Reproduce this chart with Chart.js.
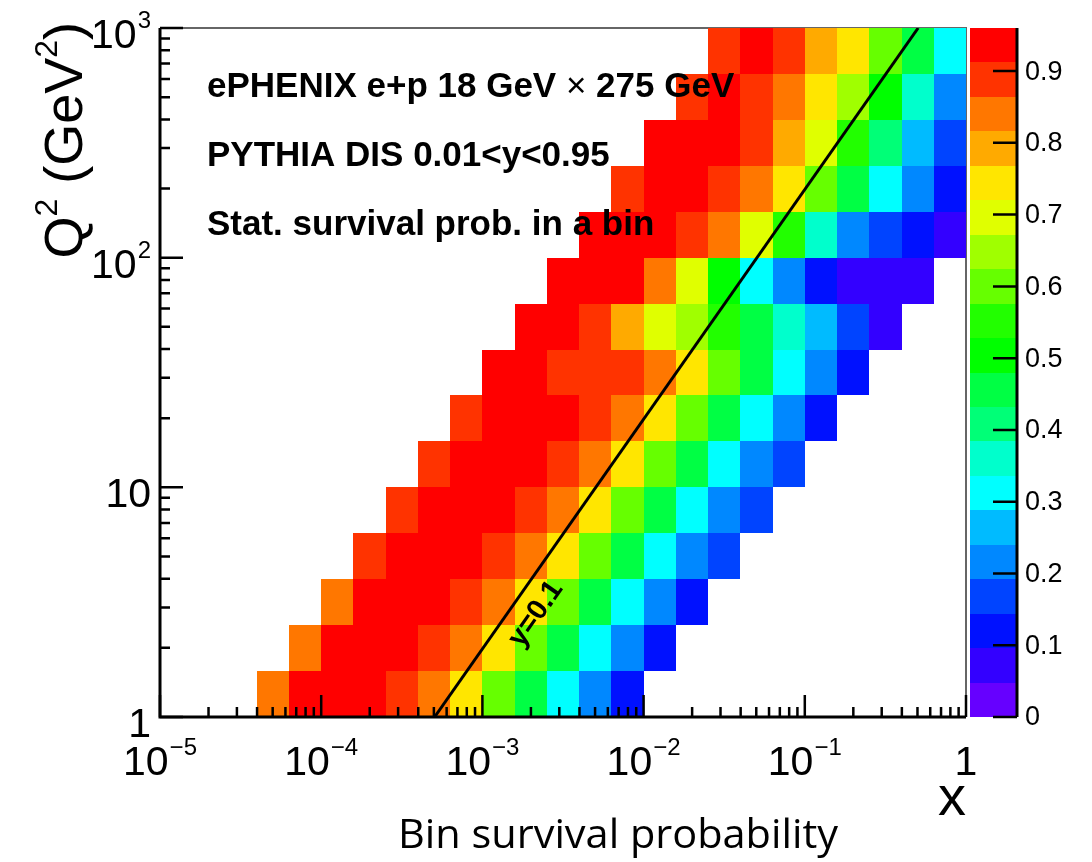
<!DOCTYPE html>
<html lang="en">
<head>
  <meta charset="UTF-8" />
  <title>ePHENIX - Bin survival probability</title>
  <script src="https://cdn.jsdelivr.net/npm/chart.js"></script>
  <style>
    body { margin: 0; background: #fff; }
    #wrap { width: 1092px; height: 862px; position: relative; }
  </style>
</head>
<body>
  <div id="wrap"><canvas id="survChart"></canvas></div>

  <script>
    // bin edges (log10), 5 bins per decade
    const xEdgesLog = [-5, -4.8, -4.6, -4.4, -4.2, -4, -3.8, -3.6, -3.4, -3.2, -3, -2.8, -2.6,
                       -2.4, -2.2, -2, -1.8, -1.6, -1.4, -1.2, -1, -0.8, -0.6, -0.4, -0.2, 0];
    const yEdgesLog = [0, 0.2, 0.4, 0.6, 0.8, 1, 1.2, 1.4, 1.6, 1.8, 2, 2.2, 2.4, 2.6, 2.8, 3];

    // first filled x bin of each Q2 row (bottom to top)
    const rowFirstBin = [3, 4, 5, 6, 7, 8, 9, 10, 11, 12, 13, 14, 15, 16, 17];

    // survival probability per row, bottom row first
    const survival = [
      [0.84, 0.94, 0.94, 0.94, 0.89, 0.84, 0.74, 0.60, 0.46, 0.31, 0.22, 0.12],
      [0.84, 0.94, 0.94, 0.94, 0.89, 0.84, 0.74, 0.60, 0.46, 0.31, 0.22, 0.12],
      [0.84, 0.94, 0.94, 0.94, 0.89, 0.84, 0.74, 0.60, 0.46, 0.31, 0.22, 0.12],
      [0.89, 0.94, 0.94, 0.94, 0.89, 0.84, 0.74, 0.60, 0.46, 0.31, 0.22, 0.17],
      [0.89, 0.94, 0.94, 0.94, 0.89, 0.84, 0.74, 0.60, 0.46, 0.31, 0.22, 0.17],
      [0.89, 0.94, 0.94, 0.94, 0.89, 0.84, 0.74, 0.60, 0.46, 0.31, 0.22, 0.17],
      [0.89, 0.94, 0.94, 0.94, 0.89, 0.84, 0.74, 0.60, 0.46, 0.31, 0.22, 0.12],
      [0.94, 0.94, 0.89, 0.89, 0.89, 0.84, 0.74, 0.60, 0.46, 0.31, 0.22, 0.12],
      [0.94, 0.94, 0.89, 0.79, 0.70, 0.65, 0.55, 0.46, 0.36, 0.26, 0.17, 0.07],
      [0.94, 0.94, 0.94, 0.84, 0.70, 0.50, 0.31, 0.22, 0.12, 0.07, 0.07, 0.07],
      [0.94, 0.94, 0.94, 0.89, 0.84, 0.70, 0.55, 0.36, 0.22, 0.17, 0.12, 0.07],
      [0.89, 0.94, 0.94, 0.89, 0.84, 0.74, 0.60, 0.46, 0.31, 0.22, 0.12],
      [0.94, 0.94, 0.94, 0.89, 0.79, 0.70, 0.55, 0.41, 0.26, 0.17],
      [0.89, 0.94, 0.89, 0.84, 0.74, 0.65, 0.50, 0.36, 0.22],
      [0.89, 0.94, 0.89, 0.79, 0.74, 0.60, 0.46, 0.31]
    ];

    // y = 0.1 line
    const lineX = [5.05e-4, 0.505];
    const lineQ2 = [1, 1000];
    const lineLabel = 'y=0.1';
    const lineLabelAt = [1.4e-3, 2.78];

    // axis labels
    const xTickValues = [1e-5, 1e-4, 1e-3, 1e-2, 1e-1, 1];
    const xTickBase = ['10', '10', '10', '10', '10', '1'];
    const xTickExp = ['\u22125', '\u22124', '\u22123', '\u22122', '\u22121', ''];
    const yTickValues = [1, 10, 100, 1000];
    const yTickBase = ['1', '10', '10', '10'];
    const yTickExp = ['', '', '2', '3'];
    const minorSteps = [2, 3, 4, 5, 6, 7, 8, 9];

    // colour palette (20 levels, 0 .. max)
    const paletteColors = ['#6600ff', '#3300ff', '#0011ff', '#0044ff', '#0088ff', '#00bbff', '#00ffff',
                           '#00ffcc', '#00ff77', '#00ff44', '#00ff00', '#22ff00', '#66ff00', '#a0ff00',
                           '#e0ff00', '#ffe600', '#ffaa00', '#ff7700', '#ff3300', '#ff0000'];
    const paletteMax = 0.96;
    const cbTicks = [0, 0.1, 0.2, 0.3, 0.4, 0.5, 0.6, 0.7, 0.8, 0.9];

    const infoLines = ['ePHENIX e+p 18 GeV \u00d7 275 GeV', 'PYTHIA DIS 0.01<y<0.95', 'Stat. survival prob. in a bin'];
    const caption = 'Bin survival probability';

    const FONT = '"Liberation Sans", Arial, Helvetica, sans-serif';

    function colorFor(v) {
      const n = paletteColors.length;
      let b = Math.floor(v / paletteMax * n);
      if (b < 0) b = 0;
      if (b > n - 1) b = n - 1;
      return paletteColors[b];
    }

    function drawPow(ctx, base, exp, x, baseline, align) {
      ctx.font = '41px ' + FONT;
      const wb = ctx.measureText(base).width;
      ctx.font = '24px ' + FONT;
      const we = exp ? ctx.measureText(exp).width + 1 : 0;
      const total = wb + we;
      const left = align === 'center' ? x - total / 2 : x - total;
      ctx.textAlign = 'left';
      ctx.textBaseline = 'alphabetic';
      ctx.font = '41px ' + FONT;
      ctx.fillText(base, left, baseline);
      if (exp) {
        ctx.font = '24px ' + FONT;
        ctx.fillText(exp, left + wb + 1, baseline - 20);
      }
    }

    // heat map cells + thin frame (drawn under the cells)
    const heatmapPlugin = {
      id: 'heatmap',
      beforeDatasetsDraw(chart) {
        const { ctx, chartArea: a, scales: { x, y } } = chart;
        ctx.save();
        ctx.strokeStyle = '#666';
        ctx.lineWidth = 2;
        ctx.beginPath();
        ctx.moveTo(a.left, a.top);
        ctx.lineTo(a.right, a.top);
        ctx.lineTo(a.right, a.bottom);
        ctx.stroke();

        survival.forEach((row, j) => {
          const top = Math.round(y.getPixelForValue(Math.pow(10, yEdgesLog[j + 1])));
          const bottom = Math.round(y.getPixelForValue(Math.pow(10, yEdgesLog[j])));
          row.forEach((v, i) => {
            const k = rowFirstBin[j] + i;
            const left = Math.round(x.getPixelForValue(Math.pow(10, xEdgesLog[k])));
            const right = Math.round(x.getPixelForValue(Math.pow(10, xEdgesLog[k + 1])));
            ctx.fillStyle = colorFor(v);
            ctx.fillRect(left, top, right - left, bottom - top);
          });
        });
        ctx.restore();
      }
    };

    // ROOT style axes, colour bar and text
    const decorPlugin = {
      id: 'decor',
      afterDatasetsDraw(chart) {
        const { ctx, chartArea: a, scales: { x, y, cb } } = chart;
        ctx.save();
        ctx.fillStyle = '#000';
        ctx.strokeStyle = '#000';

        // axis lines
        ctx.lineWidth = 3;
        ctx.beginPath();
        ctx.moveTo(a.left, a.top);
        ctx.lineTo(a.left, a.bottom);
        ctx.lineTo(a.right, a.bottom);
        ctx.stroke();

        // x ticks
        ctx.lineWidth = 2.5;
        ctx.beginPath();
        xTickValues.forEach((d, i) => {
          const px = x.getPixelForValue(d);
          ctx.moveTo(px, a.bottom);
          ctx.lineTo(px, a.bottom - 22);
          if (i < xTickValues.length - 1) {
            minorSteps.forEach(m => {
              const mx = x.getPixelForValue(d * m);
              ctx.moveTo(mx, a.bottom);
              ctx.lineTo(mx, a.bottom - 10);
            });
          }
        });
        // y ticks
        yTickValues.forEach((d, i) => {
          const py = y.getPixelForValue(d);
          ctx.moveTo(a.left, py);
          ctx.lineTo(a.left + 23, py);
          if (i < yTickValues.length - 1) {
            minorSteps.forEach(m => {
              const my = y.getPixelForValue(d * m);
              ctx.moveTo(a.left, my);
              ctx.lineTo(a.left + 10, my);
            });
          }
        });
        ctx.stroke();

        // tick labels
        xTickValues.forEach((d, i) => {
          drawPow(ctx, xTickBase[i], xTickExp[i], x.getPixelForValue(d), a.bottom + 58, 'center');
        });
        yTickValues.forEach((d, i) => {
          drawPow(ctx, yTickBase[i], yTickExp[i], a.left - 9, y.getPixelForValue(d) + 20, 'right');
        });

        // axis titles
        ctx.textAlign = 'right';
        ctx.textBaseline = 'alphabetic';
        ctx.font = '56px ' + FONT;
        ctx.fillText('x', a.right, a.bottom + 98);

        ctx.save();
        ctx.translate(82, 22);
        ctx.rotate(-Math.PI / 2);
        ctx.textAlign = 'left';
        const big = '54px ' + FONT, small = '32px ' + FONT;
        const parts = [['Q', big, 0], ['2', small, -25], [' (GeV', big, 0], ['2', small, -25], [')', big, 0]];
        let total = 0;
        parts.forEach(p => { ctx.font = p[1]; total += ctx.measureText(p[0]).width; });
        let cx = -total;
        parts.forEach(p => {
          ctx.font = p[1];
          ctx.fillText(p[0], cx, p[2]);
          cx += ctx.measureText(p[0]).width;
        });
        ctx.restore();

        // colour bar
        const cbLeft = a.right + 4, cbRight = a.right + 51;
        paletteColors.forEach((c, b) => {
          const t = Math.round(cb.getPixelForValue((b + 1) * paletteMax / paletteColors.length));
          const btm = Math.round(cb.getPixelForValue(b * paletteMax / paletteColors.length));
          ctx.fillStyle = c;
          ctx.fillRect(cbLeft, t, cbRight - cbLeft, btm - t);
        });
        ctx.fillStyle = '#000';
        ctx.lineWidth = 3;
        ctx.beginPath();
        ctx.moveTo(cbRight, a.top);
        ctx.lineTo(cbRight, a.bottom);
        ctx.stroke();
        ctx.lineWidth = 2.5;
        ctx.beginPath();
        cbTicks.forEach(v => {
          const py = cb.getPixelForValue(v);
          ctx.moveTo(cbRight, py);
          ctx.lineTo(cbRight - 24, py);
        });
        ctx.stroke();
        ctx.font = '27px ' + FONT;
        ctx.textAlign = 'left';
        ctx.textBaseline = 'middle';
        cbTicks.forEach(v => {
          ctx.fillText(v === 0 ? '0' : v.toFixed(1), cbRight + 8, cb.getPixelForValue(v) + 1);
        });

        // y=0.1 label along the line
        const p0 = { x: x.getPixelForValue(lineX[0]), y: y.getPixelForValue(lineQ2[0]) };
        const p1 = { x: x.getPixelForValue(lineX[1]), y: y.getPixelForValue(lineQ2[1]) };
        const ang = Math.atan2(p1.y - p0.y, p1.x - p0.x);
        ctx.save();
        ctx.translate(x.getPixelForValue(lineLabelAt[0]), y.getPixelForValue(lineLabelAt[1]));
        ctx.rotate(ang);
        ctx.font = 'bold 29px ' + FONT;
        ctx.textAlign = 'center';
        ctx.textBaseline = 'middle';
        ctx.fillText(lineLabel, 18, 24);
        ctx.restore();

        // info text
        ctx.textAlign = 'left';
        ctx.textBaseline = 'alphabetic';
        const tx = a.left + 47;
        [97, 166, 235].forEach((yy, i) => {
          const segs = infoLines[i].split('\u00d7');
          let cx2 = tx;
          segs.forEach((s, si) => {
            ctx.font = 'bold 35px ' + FONT;
            ctx.fillText(s, cx2, yy);
            cx2 += ctx.measureText(s).width;
            if (si < segs.length - 1) {
              ctx.font = '35px ' + FONT;
              ctx.fillText('\u00d7', cx2, yy);
              cx2 += ctx.measureText('\u00d7').width;
            }
          });
        });

        // caption under the plot
        ctx.font = '40px "Open Sans", "Noto Sans", sans-serif';
        const cw = ctx.measureText(caption).width;
        ctx.save();
        ctx.translate(618, 848);
        ctx.scale(440 / cw, 1);
        ctx.textAlign = 'center';
        ctx.fillText(caption, 0, 0);
        ctx.restore();

        ctx.restore();
      }
    };

    new Chart(document.getElementById('survChart'), {
      type: 'scatter',
      data: {
        datasets: [{
          label: lineLabel,
          data: lineX.map((v, i) => ({ x: v, y: lineQ2[i] })),
          showLine: true,
          borderColor: '#000',
          borderWidth: 3,
          pointRadius: 0
        }]
      },
      options: {
        responsive: true,
        maintainAspectRatio: false,
        animation: false,
        layout: { padding: { left: 160, top: 28, right: 126, bottom: 145 } },
        plugins: {
          legend: { display: false },
          tooltip: { enabled: false }
        },
        scales: {
          x: { type: 'logarithmic', min: 1e-5, max: 1, display: false },
          y: { type: 'logarithmic', min: 1, max: 1000, display: false },
          cb: { axis: 'y', type: 'linear', position: 'right', min: 0, max: paletteMax, display: false }
        }
      },
      plugins: [heatmapPlugin, decorPlugin]
    });
  </script>
</body>
</html>
